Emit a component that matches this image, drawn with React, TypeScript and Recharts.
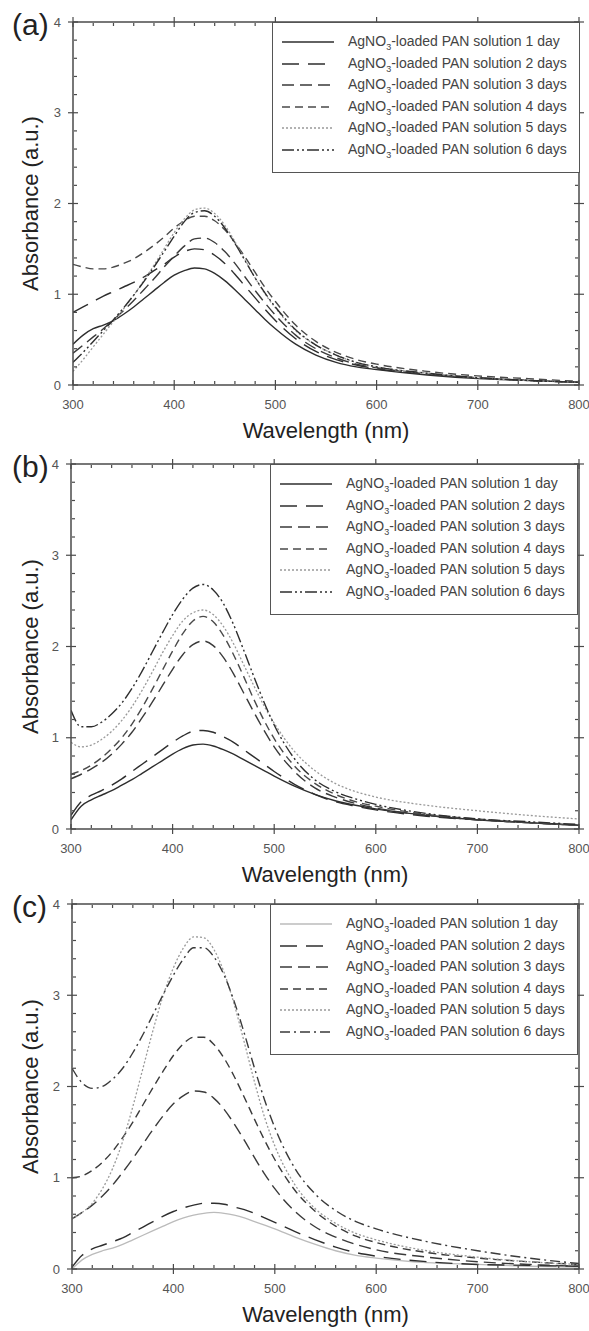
import React from "react";
import { LineChart, Line, XAxis, YAxis, Legend, Label } from "recharts";

const FONT = "'Liberation Sans', Arial, Helvetica, sans-serif";
const AXIS = "#4a4a4a";

const wavelength = [300, 310, 320, 330, 340, 350, 360, 370, 380, 390, 400, 410, 420, 430, 440, 450, 460, 470, 480, 490, 500, 520, 540, 560, 580, 600, 650, 700, 750, 800];
const xMajor = [300, 400, 500, 600, 700, 800];
const xMinor = [320, 340, 360, 380, 420, 440, 460, 480, 520, 540, 560, 580, 620, 640, 660, 680, 720, 740, 760, 780];
const yMajor = [0, 1, 2, 3, 4];
const yMinor = [0.2, 0.4, 0.6, 0.8, 1.2, 1.4, 1.6, 1.8, 2.2, 2.4, 2.6, 2.8, 3.2, 3.4, 3.6, 3.8];
const dayLabels = ["1 day", "2 days", "3 days", "4 days", "5 days", "6 days"];

// panel (a)
const a1 = [0.45, 0.55, 0.62, 0.66, 0.71, 0.78, 0.86, 0.95, 1.04, 1.13, 1.21, 1.26, 1.29, 1.28, 1.23, 1.15, 1.05, 0.94, 0.83, 0.72, 0.62, 0.45, 0.33, 0.25, 0.2, 0.17, 0.11, 0.07, 0.05, 0.03];
const a2 = [0.8, 0.86, 0.92, 0.98, 1.03, 1.08, 1.13, 1.19, 1.26, 1.33, 1.41, 1.47, 1.5, 1.49, 1.43, 1.34, 1.22, 1.09, 0.96, 0.83, 0.71, 0.51, 0.37, 0.28, 0.22, 0.18, 0.12, 0.08, 0.05, 0.03];
const a3 = [0.35, 0.44, 0.53, 0.62, 0.72, 0.82, 0.93, 1.05, 1.17, 1.3, 1.42, 1.53, 1.61, 1.62, 1.57, 1.47, 1.34, 1.19, 1.04, 0.9, 0.77, 0.55, 0.4, 0.3, 0.23, 0.19, 0.12, 0.08, 0.05, 0.03];
const a4 = [1.33, 1.3, 1.28, 1.28, 1.3, 1.34, 1.39, 1.46, 1.54, 1.63, 1.73, 1.81, 1.86, 1.86, 1.81, 1.71, 1.57, 1.41, 1.24, 1.07, 0.92, 0.66, 0.48, 0.36, 0.28, 0.23, 0.15, 0.1, 0.07, 0.04];
const a5 = [0.15, 0.28, 0.42, 0.56, 0.7, 0.84, 0.99, 1.15, 1.32, 1.5, 1.68, 1.83, 1.93, 1.95, 1.89, 1.76, 1.58, 1.38, 1.18, 1.0, 0.85, 0.6, 0.44, 0.33, 0.25, 0.2, 0.13, 0.08, 0.05, 0.03];
const a6 = [0.25, 0.36, 0.48, 0.6, 0.72, 0.85, 0.99, 1.14, 1.3, 1.47, 1.64, 1.8, 1.9, 1.92, 1.86, 1.73, 1.56, 1.37, 1.18, 1.01, 0.86, 0.61, 0.44, 0.33, 0.25, 0.2, 0.13, 0.08, 0.05, 0.03];

// panel (b)
const b1 = [0.1, 0.25, 0.32, 0.37, 0.42, 0.48, 0.54, 0.61, 0.68, 0.75, 0.82, 0.88, 0.92, 0.93, 0.91, 0.87, 0.82, 0.76, 0.7, 0.64, 0.58, 0.47, 0.38, 0.31, 0.26, 0.22, 0.15, 0.1, 0.07, 0.04];
const b2 = [0.15, 0.3, 0.37, 0.42, 0.48, 0.55, 0.63, 0.71, 0.79, 0.87, 0.95, 1.02, 1.07, 1.08, 1.06, 1.01, 0.95, 0.87, 0.79, 0.71, 0.63, 0.49, 0.38, 0.3, 0.25, 0.21, 0.14, 0.1, 0.07, 0.04];
const b3 = [0.55, 0.6, 0.66, 0.73, 0.82, 0.93, 1.06, 1.22, 1.39, 1.57, 1.75, 1.91, 2.02, 2.06, 2.01, 1.88, 1.7, 1.49, 1.28, 1.08, 0.9, 0.63, 0.45, 0.35, 0.28, 0.23, 0.15, 0.1, 0.07, 0.04];
const b4 = [0.6, 0.64, 0.7, 0.78, 0.88, 1.0, 1.15, 1.33, 1.53, 1.74, 1.95, 2.14, 2.28, 2.33, 2.27, 2.12, 1.91, 1.67, 1.42, 1.19, 0.99, 0.69, 0.5, 0.38, 0.3, 0.25, 0.16, 0.11, 0.07, 0.04];
const b5 = [0.95, 0.9, 0.92, 0.98, 1.07, 1.19, 1.34, 1.52, 1.72, 1.93, 2.12, 2.28, 2.37, 2.4, 2.35, 2.22, 2.03, 1.8, 1.57, 1.35, 1.16, 0.85, 0.64, 0.5, 0.41, 0.35, 0.26, 0.2, 0.15, 0.11];
const b6 = [1.3, 1.12, 1.12, 1.17, 1.26, 1.38, 1.54, 1.73, 1.94, 2.15, 2.35, 2.52, 2.64, 2.68, 2.62, 2.47, 2.24, 1.96, 1.67, 1.39, 1.14, 0.77, 0.54, 0.41, 0.33, 0.27, 0.17, 0.11, 0.08, 0.05];

// panel (c)
const c1 = [0.0, 0.1, 0.16, 0.2, 0.23, 0.27, 0.32, 0.37, 0.42, 0.47, 0.52, 0.56, 0.59, 0.61, 0.62, 0.61, 0.59, 0.56, 0.52, 0.48, 0.44, 0.35, 0.27, 0.2, 0.15, 0.12, 0.07, 0.05, 0.03, 0.02];
const c2 = [0.02, 0.15, 0.22, 0.26, 0.3, 0.34, 0.4, 0.46, 0.52, 0.58, 0.63, 0.67, 0.7, 0.72, 0.72, 0.71, 0.68, 0.65, 0.61, 0.56, 0.51, 0.41, 0.32, 0.24, 0.18, 0.14, 0.08, 0.05, 0.04, 0.03];
const c3 = [0.55, 0.62, 0.7, 0.8, 0.92, 1.06, 1.21, 1.37, 1.53, 1.68, 1.81, 1.9, 1.95, 1.94, 1.87, 1.75, 1.59, 1.41, 1.22, 1.04, 0.88, 0.63, 0.46, 0.35, 0.27, 0.21, 0.13, 0.08, 0.05, 0.03];
const c4 = [1.0, 1.02, 1.08, 1.17, 1.29, 1.44, 1.61, 1.8, 1.99, 2.17, 2.34, 2.47, 2.54, 2.54, 2.46, 2.31, 2.11, 1.88, 1.64, 1.41, 1.2, 0.86, 0.63, 0.47, 0.36, 0.29, 0.18, 0.12, 0.08, 0.05];
const c5 = [0.55, 0.62, 0.72, 0.88, 1.1, 1.4, 1.78, 2.2, 2.62, 3.0, 3.3, 3.52, 3.64, 3.63, 3.5, 3.25, 2.9, 2.48, 2.05, 1.66, 1.35, 0.92, 0.66, 0.5, 0.39, 0.32, 0.2, 0.13, 0.08, 0.05];
const c6 = [2.2, 2.04, 1.98, 2.0, 2.08, 2.2, 2.37, 2.57, 2.79, 3.01, 3.22, 3.4, 3.52, 3.52, 3.42, 3.22, 2.93, 2.58, 2.2, 1.85, 1.55, 1.1, 0.82, 0.64, 0.52, 0.44, 0.3, 0.2, 0.12, 0.06];

type LineStyle = { color: string; dash?: string; width: number };

const stylesAB: LineStyle[] = [
  { color: "#2e2e2e", width: 1.4 },
  { color: "#2e2e2e", dash: "17 9", width: 1.4 },
  { color: "#3a3a3a", dash: "12 6", width: 1.4 },
  { color: "#4a4a4a", dash: "8 5", width: 1.4 },
  { color: "#999", dash: "2 2", width: 1.3 },
  { color: "#2e2e2e", dash: "12 3 2 3 2 3", width: 1.4 },
];
const stylesC: LineStyle[] = [
  { color: "#bbb", width: 1.3 },
  { color: "#2e2e2e", dash: "17 9", width: 1.4 },
  { color: "#3a3a3a", dash: "12 6", width: 1.4 },
  { color: "#3a3a3a", dash: "8 5", width: 1.4 },
  { color: "#999", dash: "2 2", width: 1.3 },
  { color: "#3a3a3a", dash: "10 4 2 4", width: 1.4 },
];

// every axis pair has the same domain and range, so each series is hung on
// its own pair; that way all the tick-only axes have data and get drawn
const axisPairs: [string | number, string | number][] = [
  [0, 0],
  ["bM", "lM"],
  ["bm", "lm"],
  ["tO", "rO"],
  ["tM", "rM"],
  ["tm", "rm"],
];

function makeRows(series: number[][]) {
  return wavelength.map((w, i) => {
    const row: Record<string, number> = { wl: w };
    series.forEach((s, k) => (row["s" + (k + 1)] = s[i]));
    return row;
  });
}

const tickStroke = { stroke: AXIS, strokeWidth: 1.2 };
const axisStroke = { stroke: AXIS, strokeWidth: 1.5 };
const tickText = { fill: "#555", fontSize: 13, fontFamily: FONT };

// tick mark without a label
const NoLabel = () => <g />;

// tick-only axes: inward halves of the ticks, plus the top and right frame.
function tickAxes() {
  const xs = { dataKey: "wl", type: "number" as const, domain: [300, 800], allowDataOverflow: true, interval: 0, tick: NoLabel, tickLine: tickStroke, height: 1 };
  const ys = { type: "number" as const, domain: [0, 4], allowDataOverflow: true, interval: 0, tick: NoLabel, tickLine: tickStroke, width: 1 };
  return [
    <XAxis key="bM" xAxisId="bM" orientation="bottom" mirror ticks={xMajor} tickSize={5} axisLine={false} {...xs} />,
    <XAxis key="bm" xAxisId="bm" orientation="bottom" mirror ticks={xMinor} tickSize={3} axisLine={false} {...xs} />,
    <XAxis key="tO" xAxisId="tO" orientation="top" ticks={xMajor} tickSize={5} axisLine={axisStroke} {...xs} />,
    <XAxis key="tM" xAxisId="tM" orientation="top" mirror ticks={xMajor} tickSize={5} axisLine={false} {...xs} />,
    <XAxis key="tm" xAxisId="tm" orientation="top" mirror ticks={xMinor} tickSize={3} axisLine={false} {...xs} />,
    <YAxis key="lM" yAxisId="lM" orientation="left" mirror ticks={yMajor} tickSize={5} axisLine={false} {...ys} />,
    <YAxis key="lm" yAxisId="lm" orientation="left" mirror ticks={yMinor} tickSize={3} axisLine={false} {...ys} />,
    <YAxis key="rO" yAxisId="rO" orientation="right" ticks={yMajor} tickSize={5} axisLine={axisStroke} {...ys} />,
    <YAxis key="rM" yAxisId="rM" orientation="right" mirror ticks={yMajor} tickSize={5} axisLine={false} {...ys} />,
    <YAxis key="rm" yAxisId="rm" orientation="right" mirror ticks={yMinor} tickSize={3} axisLine={false} {...ys} />,
  ];
}

function LegendBox({ styles }: { styles: LineStyle[] }) {
  return (
    <div
      style={{
        position: "relative",
        width: 308,
        height: 151,
        border: "1.3px solid #555",
        boxSizing: "border-box",
        background: "#fff",
        fontFamily: FONT,
        fontSize: 14,
        color: "#444",
      }}
    >
      {styles.map((s, i) => (
        <div
          key={i}
          style={{ position: "absolute", top: 9 + i * 21.6, left: 9, height: 20, display: "flex", alignItems: "center", whiteSpace: "nowrap" }}
        >
          <svg width={52} height={8}>
            <line x1={0} x2={52} y1={4} y2={4} stroke={s.color} strokeWidth={s.width} strokeDasharray={s.dash} />
          </svg>
          <span style={{ marginLeft: 14, lineHeight: "20px" }}>
            AgNO<span style={{ fontSize: 9, position: "relative", top: 4 }}>3</span>-loaded PAN solution {dayLabels[i]}
          </span>
        </div>
      ))}
    </div>
  );
}

type PanelProps = {
  tag: string;
  tagTop: number;
  series: number[][];
  styles: LineStyle[];
  height: number;
  top: number;
  axisH: number;
  yW: number;
  legendLeft: number;
  titleOffset: number;
};

function Panel({ tag, tagTop, series, styles, height, top, axisH, yW, legendLeft, titleOffset }: PanelProps) {
  const rows = makeRows(series);
  return (
    <div style={{ position: "relative", width: 589, height }}>
      <LineChart width={589} height={height} data={rows} margin={{ top: top - 1, right: 9, bottom: 0, left: 0 }}>
        <XAxis
          dataKey="wl"
          type="number"
          domain={[300, 800]}
          allowDataOverflow
          ticks={xMajor}
          interval={0}
          tickSize={5}
          tickMargin={10}
          tickLine={tickStroke}
          axisLine={axisStroke}
          tick={tickText}
          height={axisH}
        >
          <Label
            content={(p: any) => {
              const vb = p.viewBox;
              return (
                <text x={vb.x + vb.width / 2} y={vb.y + vb.height - titleOffset} textAnchor="middle" fontSize={22} fill="#222" fontFamily={FONT}>
                  Wavelength (nm)
                </text>
              );
            }}
          />
        </XAxis>
        <YAxis
          type="number"
          domain={[0, 4]}
          allowDataOverflow
          ticks={yMajor}
          interval={0}
          tickSize={5}
          tickMargin={7}
          tickLine={tickStroke}
          axisLine={axisStroke}
          tick={tickText}
          width={yW}
        >
          <Label
            content={(p: any) => {
              const vb = p.viewBox;
              const cy = vb.y + vb.height / 2;
              return (
                <text x={30} y={cy} transform={`rotate(-90 30 ${cy})`} textAnchor="middle" dominantBaseline="central" fontSize={22} fill="#222" fontFamily={FONT}>
                  Absorbance (a.u.)
                </text>
              );
            }}
          />
        </YAxis>
        {tickAxes()}
        <Legend
          layout="horizontal"
          verticalAlign="middle"
          align="center"
          wrapperStyle={{ left: legendLeft, top, width: 308, height: 151 }}
          content={() => <LegendBox styles={styles} />}
        />
        {styles.map((s, i) => (
          <Line
            key={i}
            xAxisId={axisPairs[i][0]}
            yAxisId={axisPairs[i][1]}
            dataKey={"s" + (i + 1)}
            name={dayLabels[i]}
            type="monotone"
            stroke={s.color}
            strokeWidth={s.width}
            strokeDasharray={s.dash}
            dot={false}
            activeDot={false}
            isAnimationActive={false}
          />
        ))}
      </LineChart>
      <div style={{ position: "absolute", left: 12, top: tagTop, fontFamily: FONT, fontSize: 30, lineHeight: "30px", color: "#222" }}>
        {tag}
      </div>
    </div>
  );
}

export default function App() {
  return (
    <div style={{ position: "absolute", left: 0, top: 0, width: 589, height: 1331, background: "#fff" }}>
      <Panel tag="(a)" tagTop={10} series={[a1, a2, a3, a4, a5, a6]} styles={stylesAB} height={444} top={22} axisH={59} yW={73} legendLeft={272} titleOffset={6} />
      <Panel tag="(b)" tagTop={8} series={[b1, b2, b3, b4, b5, b6]} styles={stylesAB} height={444} top={20} axisH={59} yW={71} legendLeft={270} titleOffset={6} />
      <Panel tag="(c)" tagTop={4} series={[c1, c2, c3, c4, c5, c6]} styles={stylesC} height={443} top={16} axisH={62} yW={72} legendLeft={270} titleOffset={9} />
    </div>
  );
}
